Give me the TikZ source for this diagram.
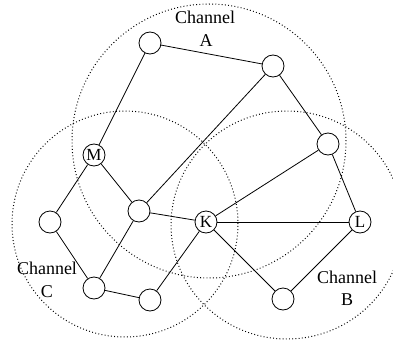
\documentclass[tikz,border=0pt]{standalone}
\usepackage{fontspec}
\setmainfont{Liberation Serif}
\begin{document}
\begin{tikzpicture}[x=1pt,y=-1pt,
  vtx/.style={draw,circle,minimum size=22pt,inner sep=0pt,line width=0.8pt,font=\fontsize{17}{17}\selectfont},
  edge/.style={line width=0.8pt},
  channel/.style={line width=1pt,dash pattern=on 0.9pt off 2.3pt},
  lab/.style={font=\fontsize{18}{18}\selectfont,inner sep=0pt,align=center}]
\useasboundingbox (0,0) rectangle (393,345);
% channels
\draw[channel] (209,141) circle[radius=137pt];
\draw[channel] (125,224) circle[radius=113pt];
\draw[channel] (287,225) ellipse[x radius=116pt,y radius=114pt];
% nodes
\node[vtx] (t1) at (150,43) {};
\node[vtx] (t2) at (273,66) {};
\node[vtx] (r) at (328,144) {};
\node[vtx] (M) at (94,155) {M};
\node[vtx] (mid) at (139,211) {};
\node[vtx] (K) at (206,222) {K};
\node[vtx] (L) at (360,222) {L};
\node[vtx] (lf) at (50,222) {};
\node[vtx] (b1) at (94,288) {};
\node[vtx] (b2) at (150,300) {};
\node[vtx] (bR) at (283,299) {};
% labels
\node[lab] (la1) at (205,17) {Channel};
\node[lab] (la2) at (206,41) {A};
\node[lab] (lc1) at (47,268) {Channel};
\node[lab] (lc2) at (47,292) {C};
\node[lab] (lb1) at (347,277) {Channel};
\node[lab] (lb2) at (347,300) {B};
% edges
\draw[edge] (t1) -- (t2);
\draw[edge] (t1) -- (M);
\draw[edge] (t2) -- (mid);
\draw[edge] (t2) -- (r);
\draw[edge] (r) -- (K);
\draw[edge] (r) -- (L);
\draw[edge] (M) -- (lf);
\draw[edge] (M) -- (mid);
\draw[edge] (mid) -- (K);
\draw[edge] (mid) -- (b1);
\draw[edge] (lf) -- (b1);
\draw[edge] (b1) -- (b2);
\draw[edge] (b2) -- (K);
\draw[edge] (K) -- (L);
\draw[edge] (K) -- (bR);
\draw[edge] (L) -- (bR);
\end{tikzpicture}
\end{document}
